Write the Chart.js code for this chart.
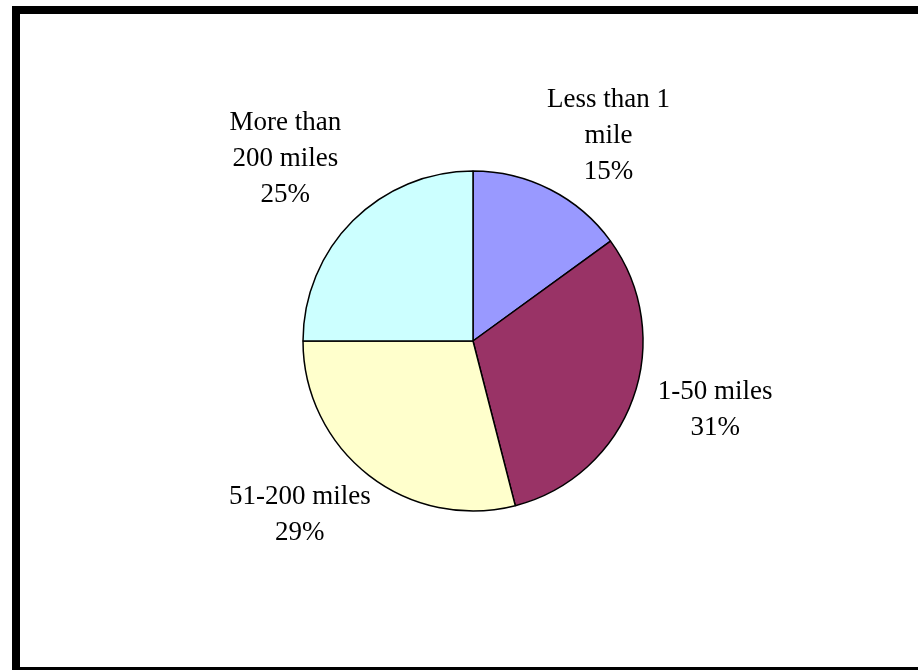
<!DOCTYPE html>
<html>
<head>
<meta charset="utf-8">
<script src="https://cdn.jsdelivr.net/npm/chart.js@4"></script>
<style>
  html, body { margin: 0; padding: 0; background: #fff; width: 918px; height: 670px; overflow: hidden; }
  #frame { position: absolute; left: 12px; top: 6px; width: 960px; height: 653px;
           border-left: 8px solid #000; border-top: 8px solid #000; border-bottom: 8px solid #000; }
  #wrap { position: absolute; left: 0; top: 0; width: 918px; height: 670px; }
</style>
</head>
<body>
<div id="frame"></div>
<div id="wrap"><canvas id="c"></canvas></div>
<script>
// ---- data ----
const categories = ["Less than 1 mile", "1-50 miles", "51-200 miles", "More than 200 miles"];
const labelLines = [["Less than 1", "mile"], ["1-50 miles"], ["51-200 miles"], ["More than", "200 miles"]];
const values = [15, 31, 29, 25];
const colors = ["#9999FF", "#993366", "#FFFFCC", "#CCFFFF"];

// ---- label layout (styling, not data) ----
const labelDistance = 1.47;           // fraction of radius
const labelNudge = [[22, 18], [7, -16], [-20, -24], [-11, -5]];
const fontSize = 27, lineHeight = 36;

const outsideLabels = {
  id: 'outsideLabels',
  afterDatasetsDraw(chart) {
    const ctx = chart.ctx;
    const meta = chart.getDatasetMeta(0);
    const total = values.reduce((a, b) => a + b, 0);
    ctx.save();
    ctx.fillStyle = '#000';
    ctx.font = fontSize + 'px "Liberation Serif", "Times New Roman", serif';
    ctx.textAlign = 'center';
    ctx.textBaseline = 'middle';
    meta.data.forEach((arc, i) => {
      const p = arc.getProps(['x', 'y', 'startAngle', 'endAngle', 'outerRadius'], true);
      const mid = (p.startAngle + p.endAngle) / 2;
      const r = p.outerRadius * labelDistance;
      const cx = p.x + Math.cos(mid) * r + labelNudge[i][0];
      const cy = p.y + Math.sin(mid) * r + labelNudge[i][1];
      const lines = labelLines[i].concat([Math.round(values[i] / total * 100) + '%']);
      const y0 = cy - (lines.length - 1) * lineHeight / 2;
      lines.forEach((t, j) => ctx.fillText(t, cx, y0 + j * lineHeight));
    });
    ctx.restore();
  }
};

new Chart(document.getElementById('c'), {
  type: 'pie',
  data: {
    labels: categories,
    datasets: [{
      data: values,
      backgroundColor: colors,
      borderColor: '#000',
      borderWidth: 1.5,
      hoverOffset: 0
    }]
  },
  options: {
    responsive: true,
    maintainAspectRatio: false,
    animation: false,
    radius: 170,
    layout: { padding: { left: 28, right: 0, top: 12, bottom: 0 } },
    plugins: { legend: { display: false }, tooltip: { enabled: false } },
    events: []
  },
  plugins: [outsideLabels]
});
</script>
</body>
</html>
